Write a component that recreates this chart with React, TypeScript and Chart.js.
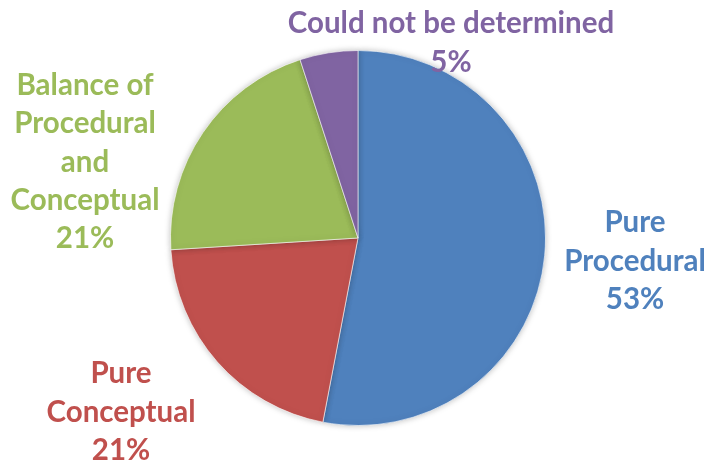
import React, { useEffect, useRef } from "react";
import { Chart, registerables } from "chart.js";

Chart.register(...registerables);

const categories = ["Pure Procedural", "Pure Conceptual", "Balance of Procedural and Conceptual", "Could not be determined"];
const values = [53, 21, 21, 5];
const colors = ["#4F81BD", "#C0504D", "#9BBB59", "#8064A2"];
const labelLines = [
  ["Pure", "Procedural", "53%"],
  ["Pure", "Conceptual", "21%"],
  ["Balance of", "Procedural", "and", "Conceptual", "21%"],
  ["Could not be determined", "5%"],
];
// label anchor (center x, first line baseline y, line spacing)
const labelPos = [
  [635, 232, 38.7],
  [121, 383, 38.5],
  [85, 95, 38.3],
  [451, 33, 39],
];

const labelPlugin = {
  id: "outLabels",
  afterDraw(chart: any) {
    const ctx = chart.ctx;
    ctx.save();
    ctx.font = "bold 29.5px Lato, 'Open Sans', sans-serif";
    ctx.textAlign = "center";
    ctx.textBaseline = "alphabetic";
    labelLines.forEach((lines, i) => {
      const [x, y, dy] = labelPos[i];
      ctx.fillStyle = colors[i];
      lines.forEach((t, j) => ctx.fillText(t, x, y + j * dy));
    });
    ctx.restore();
  },
};

const shadowPlugin = {
  id: "pieShadow",
  beforeDatasetsDraw(chart: any) {
    const ctx = chart.ctx;
    ctx.save();
    ctx.shadowColor = "rgba(0,0,0,0.25)";
    ctx.shadowBlur = 6;
    ctx.shadowOffsetX = 0;
    ctx.shadowOffsetY = 0;
  },
  afterDatasetsDraw(chart: any) {
    chart.ctx.restore();
  },
};

export default function App() {
  const ref = useRef<HTMLCanvasElement>(null);
  useEffect(() => {
    document.body.style.margin = "0";
    const chart = new Chart(ref.current!, {
      type: "pie",
      data: {
        labels: categories,
        datasets: [
          {
            data: values,
            backgroundColor: colors,
            borderColor: "rgba(255,255,255,0.6)",
            borderWidth: 1,
          },
        ],
      },
      options: {
        animation: false,
        responsive: false,
        maintainAspectRatio: false,
        layout: { padding: { top: 50, bottom: 39, left: 170, right: 163 } },
        plugins: { legend: { display: false }, tooltip: { enabled: false } },
      },
      plugins: [shadowPlugin, labelPlugin],
    });
    return () => chart.destroy();
  }, []);
  return (
    <div style={{ position: "absolute", left: 0, top: 0, width: 709, height: 465, background: "#fff" }}>
      <canvas ref={ref} width={709} height={465} style={{ width: 709, height: 465 }} />
    </div>
  );
}
